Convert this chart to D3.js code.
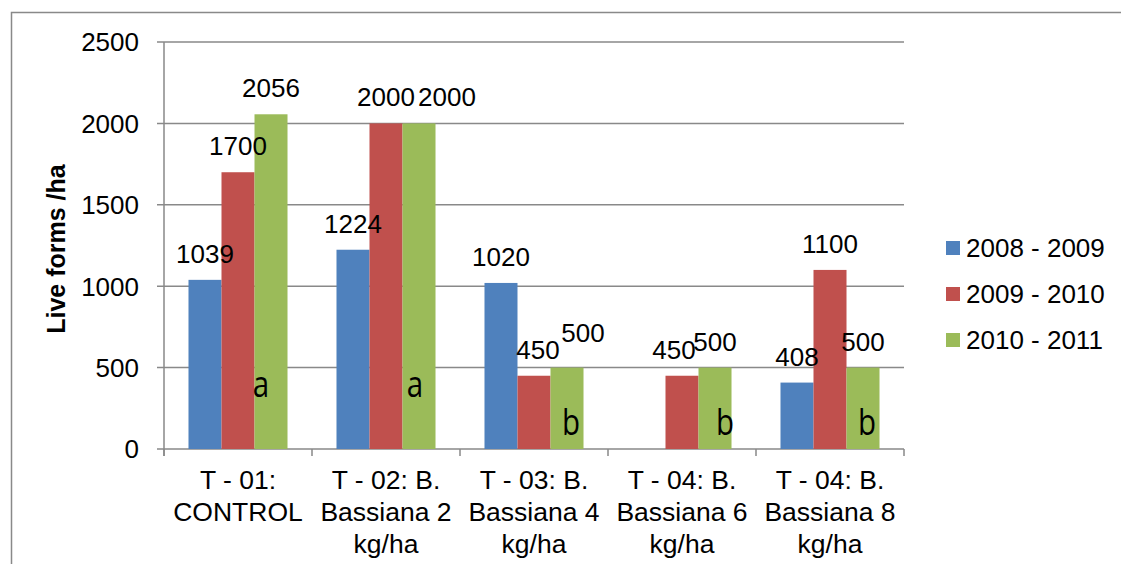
<!DOCTYPE html>
<html>
<head>
<meta charset="utf-8">
<script src="https://cdn.jsdelivr.net/npm/d3@7"></script>
<style>
  html, body { margin: 0; padding: 0; background: #fff; }
  svg { display: block; }
  text { font-family: "Liberation Sans", Arial, sans-serif; fill: #000; }
</style>
</head>
<body>
<svg id="chart" width="1121" height="564"></svg>
<script>
// ---- data ----
const categories = [
  ["T - 01:", "CONTROL"],
  ["T - 02: B.", "Bassiana 2", "kg/ha"],
  ["T - 03: B.", "Bassiana 4", "kg/ha"],
  ["T - 04: B.", "Bassiana 6", "kg/ha"],
  ["T - 04: B.", "Bassiana 8", "kg/ha"]
];
const seriesNames = ["2008 - 2009", "2009 - 2010", "2010 - 2011"];
const s2008 = [1039, 1224, 1020, null, 408];
const s2009 = [1700, 2000, 450, 450, 1100];
const s2010 = [2056, 2000, 500, 500, 500];
const groupLetters = ["a", "a", "b", "b", "b"];
const groupLetterLevel = [320, 320, 85, 85, 85];
const yTicks = [0, 500, 1000, 1500, 2000, 2500];

// ---- style ----
const colors = ["#4F81BD", "#C0504D", "#9BBB59"];
const gridColor = "#898989";
// label nudges (Excel-style overlap avoidance) keyed "group-series": [dx, dy]
const labelNudge = { "1-2": [28, 0], "2-1": [4, 0], "2-2": [16, -9], "3-1": [-8, 0] };
const letterDx = [-10, -4, 4, 10, 4];

const series = [s2008, s2009, s2010];
const svg = d3.select("#chart");

// outer frame
svg.append("rect").attr("x", 11.5).attr("y", 12.5).attr("width", 1130).attr("height", 580)
  .attr("fill", "none").attr("stroke", gridColor).attr("stroke-width", 1.5);

const pLeft = 164, pRight = 904, pTop = 42, pBottom = 449;
const x = d3.scaleBand().domain(d3.range(categories.length)).range([pLeft, pRight])
  .paddingInner(0.331).paddingOuter(0.1655);
const xs = d3.scaleBand().domain(d3.range(series.length)).range([0, x.bandwidth()]);
const y = d3.scaleLinear().domain([0, 2500]).range([pBottom, pTop]);

// gridlines + y ticks
const g = svg.append("g");
g.selectAll("line.grid").data(yTicks).join("line")
  .attr("x1", pLeft - 7).attr("x2", pRight)
  .attr("y1", d => y(d)).attr("y2", d => y(d))
  .attr("stroke", gridColor).attr("stroke-width", 1.5);
g.selectAll("text.ytick").data(yTicks).join("text")
  .attr("x", 139).attr("y", d => y(d)).attr("dy", "0.36em")
  .attr("text-anchor", "end").attr("font-size", 26).text(d => d);

// y axis line
g.append("line").attr("x1", pLeft).attr("x2", pLeft).attr("y1", pTop).attr("y2", pBottom + 7)
  .attr("stroke", gridColor).attr("stroke-width", 1.5);
// category ticks
const catEdges = d3.range(categories.length + 1).map(i => pLeft + i * x.step());
g.selectAll("line.ctick").data(catEdges).join("line")
  .attr("x1", d => d).attr("x2", d => d).attr("y1", pBottom).attr("y2", pBottom + 7)
  .attr("stroke", gridColor).attr("stroke-width", 1.5);

// bars
const barData = [];
series.forEach((s, si) => s.forEach((v, ci) => { if (v != null) barData.push({ si, ci, v }); }));
svg.append("g").selectAll("rect").data(barData).join("rect")
  .attr("x", d => x(d.ci) + xs(d.si))
  .attr("y", d => y(d.v))
  .attr("width", xs.bandwidth())
  .attr("height", d => y(0) - y(d.v))
  .attr("fill", d => colors[d.si]);

// value labels
svg.append("g").selectAll("text").data(barData).join("text")
  .attr("x", d => x(d.ci) + xs(d.si) + xs.bandwidth() / 2 + ((labelNudge[d.ci + "-" + d.si] || [0, 0])[0]))
  .attr("y", d => y(d.v) - 17 + ((labelNudge[d.ci + "-" + d.si] || [0, 0])[1]))
  .attr("text-anchor", "middle").attr("font-size", 26).text(d => d.v);

// group letters
svg.append("g").selectAll("text").data(groupLetters).join("text")
  .attr("transform", (d, i) => `translate(${x(i) + xs(2) + xs.bandwidth() / 2 + letterDx[i]},${y(groupLetterLevel[i])}) scale(0.82,1)`)
  .attr("text-anchor", "middle").attr("font-size", 36)
  .style("font-family", "'Open Sans', sans-serif").style("font-weight", 500).text(d => d);

// category labels
const cl = svg.append("g");
categories.forEach((lines, i) => {
  const t = cl.append("text").attr("text-anchor", "middle").attr("font-size", 26.5);
  lines.forEach((ln, k) => {
    t.append("tspan").attr("x", x(i) + x.bandwidth() / 2).attr("y", 489 + k * 32).text(ln);
  });
});

// y axis title
svg.append("text").attr("transform", "translate(65,249) rotate(-90)")
  .attr("text-anchor", "middle").attr("font-size", 25).attr("font-weight", "bold")
  .text("Live forms /ha");

// legend
const lg = svg.append("g");
seriesNames.forEach((n, i) => {
  const cy = 248 + i * 46;
  lg.append("rect").attr("x", 946).attr("y", cy - 7).attr("width", 14).attr("height", 14).attr("fill", colors[i]);
  lg.append("text").attr("x", 966).attr("y", cy).attr("dy", "0.36em").attr("font-size", 26).text(n);
});
</script>
</body>
</html>
